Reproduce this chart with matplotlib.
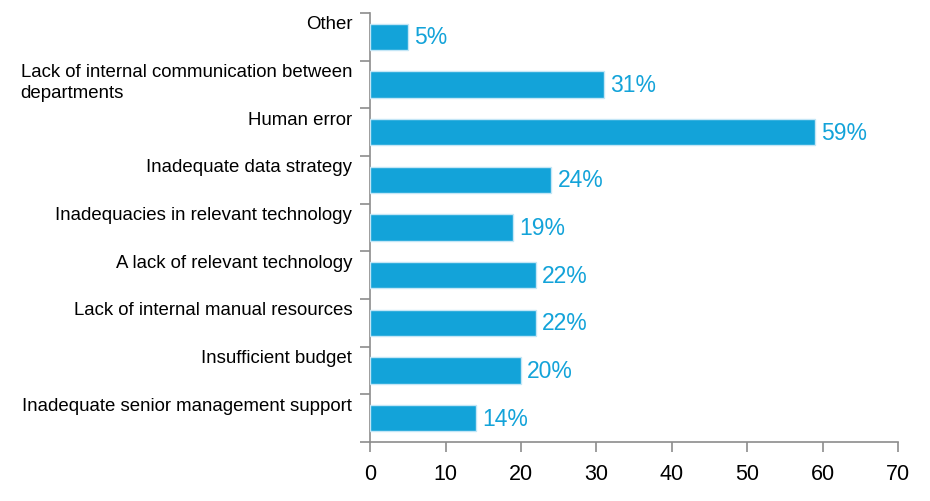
import matplotlib
matplotlib.use("Agg")
import matplotlib.pyplot as plt
import matplotlib.transforms as mtransforms
import numpy as np

plt.rcParams["font.family"] = ["Liberation Sans", "DejaVu Sans"]

categories = [
    "Other",
    "Lack of internal communication between\ndepartments",
    "Human error",
    "Inadequate data strategy",
    "Inadequacies in relevant technology",
    "A lack of relevant technology",
    "Lack of internal manual resources",
    "Insufficient budget",
    "Inadequate senior management support",
]
values = [5, 31, 59, 24, 19, 22, 22, 20, 14]
x_ticks = [0, 10, 20, 30, 40, 50, 60, 70]

BLUE = "#13a3d9"
AXIS_GREY = "#8c8c8c"

fig = plt.figure(figsize=(9.3, 5.02), dpi=100)
ax = fig.add_axes([0.398, 0.1175, 0.5677, 0.8545])

y = np.arange(len(categories))
ax.barh(y, values, height=0.55, color=BLUE, edgecolor="#c4e6f6", linewidth=1, zorder=3)

for yi, v in zip(y, values):
    ax.annotate(f"{v}%", xy=(v, yi), xytext=(4.5, 0), textcoords="offset points",
                va="center", ha="left", fontsize=16.5, color=BLUE)

# category labels sit at the top of each band, right aligned block, left aligned lines
label_tf = mtransforms.blended_transform_factory(ax.transAxes, ax.transData)
label_tf = label_tf + mtransforms.ScaledTranslation(-18 / 100, 0, fig.dpi_scale_trans)
for yi, name in zip(y, categories):
    ax.text(0, yi - 0.45, name, transform=label_tf, ha="right", va="top",
            multialignment="left", fontsize=13.4, color="black", linespacing=1.3)

ax.set_xlim(0, 70)
ax.set_ylim(len(categories) - 0.5, -0.5)
ax.set_xticks(x_ticks)
ax.set_xticklabels([str(t) for t in x_ticks], fontsize=15.5)
ax.set_yticks(np.arange(len(categories) + 1) - 0.5)
ax.set_yticklabels([])

for side in ["top", "right"]:
    ax.spines[side].set_visible(False)
for side in ["left", "bottom"]:
    ax.spines[side].set_color(AXIS_GREY)
    ax.spines[side].set_linewidth(1.2)
ax.tick_params(axis="both", color=AXIS_GREY, length=7, width=1.2)
ax.tick_params(axis="x", pad=8)

fig.savefig("out.png", dpi=100)
